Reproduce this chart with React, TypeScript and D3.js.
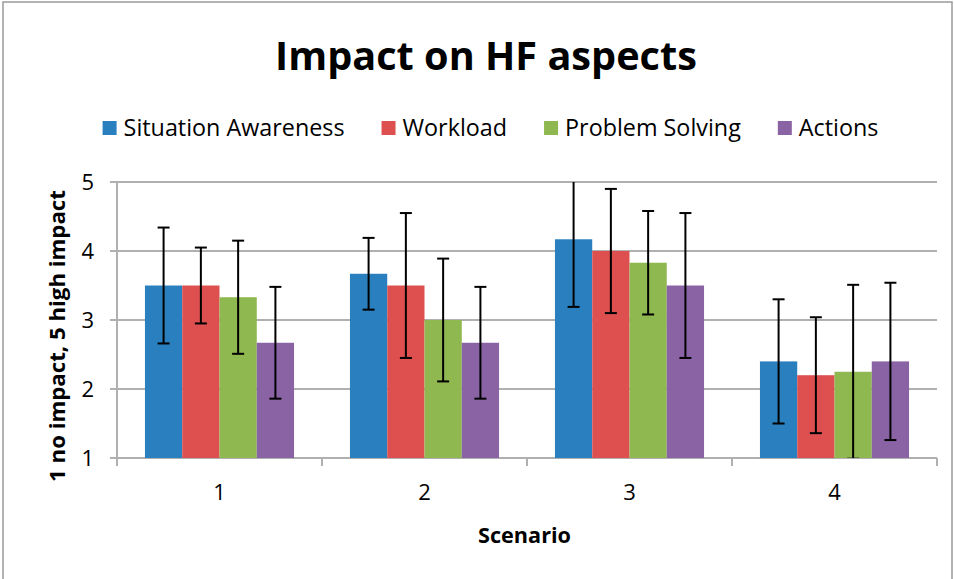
import { useEffect, useRef } from "react"
import * as d3 from "d3"

// data
const scenarios = ["1", "2", "3", "4"]
const seriesNames = ["Situation Awareness", "Workload", "Problem Solving", "Actions"]
const seriesColors = ["#2a80bf", "#de5050", "#90b850", "#8a63a4"]
const situationAwareness = [3.5, 3.67, 4.17, 2.4]
const workload = [3.5, 3.5, 4.0, 2.2]
const problemSolving = [3.33, 3.0, 3.83, 2.25]
const actions = [2.67, 2.67, 3.5, 2.4]
const errSituation = [0.84, 0.52, 0.98, 0.9]
const errWorkload = [0.55, 1.05, 0.9, 0.84]
const errProblem = [0.82, 0.89, 0.75, 1.26]
const errActions = [0.81, 0.81, 1.05, 1.14]
const yTicks = [1, 2, 3, 4, 5]

const W = 954
const H = 579
const FONT = "'Open Sans', Lato, sans-serif"

// scale a text's font size so it fills the width seen in the picture
const fitText = (t: any, baseSize: number, target: number) => {
  t.attr("font-size", baseSize)
  const len = (t.node() as SVGTextElement).getComputedTextLength()
  const size = baseSize * target / len
  t.attr("font-size", size)
  return size
}

export default function App() {
  const svgRef = useRef<SVGSVGElement | null>(null)

  useEffect(() => {
    const svg = d3.select(svgRef.current)
    svg.selectAll("*").remove()

    const values = [situationAwareness, workload, problemSolving, actions]
    const errors = [errSituation, errWorkload, errProblem, errActions]

    const margin = { top: 182, right: 17, bottom: 121, left: 117 }
    const innerW = W - margin.left - margin.right
    const innerH = H - margin.top - margin.bottom

    // outer border
    svg.append("rect")
      .attr("x", 3).attr("y", 2)
      .attr("width", W - 5).attr("height", H + 10)
      .attr("fill", "white")
      .attr("stroke", "#9a9a9a").attr("stroke-width", 1.5)

    const x0 = d3.scaleBand().domain(scenarios).range([0, innerW]).paddingInner(0).paddingOuter(0)
    // gap width 150% -> bars take 4/(4+1.5) of the band
    const groupW = x0.bandwidth() * 4 / 5.5
    const x1 = d3.scaleBand().domain(seriesNames).range([0, groupW]).padding(0)
    const y = d3.scaleLinear().domain([1, 5]).range([innerH, 0])

    const g = svg.append("g").attr("transform", `translate(${margin.left},${margin.top})`)

    // grid lines
    g.selectAll(".grid")
      .data(yTicks)
      .join("line")
      .attr("x1", -7).attr("x2", innerW)
      .attr("y1", d => y(d)).attr("y2", d => y(d))
      .attr("stroke", "#b0b0b0").attr("stroke-width", 2)

    // y axis line
    g.append("line")
      .attr("x1", 0).attr("x2", 0).attr("y1", 0).attr("y2", innerH)
      .attr("stroke", "#b0b0b0").attr("stroke-width", 2)

    // x tick marks at category boundaries
    const bounds = scenarios.map(s => x0(s) as number).concat([innerW])
    g.selectAll(".xtick")
      .data(bounds)
      .join("line")
      .attr("x1", d => d).attr("x2", d => d)
      .attr("y1", innerH).attr("y2", innerH + 8)
      .attr("stroke", "#b0b0b0").attr("stroke-width", 2)

    // y tick labels
    g.selectAll(".ylab")
      .data(yTicks)
      .join("text")
      .attr("x", -23).attr("y", d => y(d))
      .attr("dy", "0.36em")
      .attr("text-anchor", "end")
      .attr("font-family", FONT).attr("font-size", 22)
      .attr("fill", "#000")
      .text(d => d)

    // x tick labels
    g.selectAll(".xlab")
      .data(scenarios)
      .join("text")
      .attr("x", d => (x0(d) as number) + x0.bandwidth() / 2)
      .attr("y", innerH + 42)
      .attr("text-anchor", "middle")
      .attr("font-family", FONT).attr("font-size", 22)
      .text(d => d)

    // bars
    const clip = svg.append("clipPath").attr("id", "plotclip")
    clip.append("rect").attr("x", 0).attr("y", 0).attr("width", innerW).attr("height", innerH)

    seriesNames.forEach((name, si) => {
      const groupOffset = (x0.bandwidth() - groupW) / 2
      const bx = (d: string) => (x0(d) as number) + groupOffset + (x1(name) as number)
      g.append("g")
        .selectAll("rect")
        .data(scenarios)
        .join("rect")
        .attr("x", d => bx(d))
        .attr("y", (_, i) => y(values[si][i]))
        .attr("width", x1.bandwidth())
        .attr("height", (_, i) => innerH - y(values[si][i]))
        .attr("fill", seriesColors[si])

      // error bars
      const eg = g.append("g").attr("clip-path", "url(#plotclip)")
      scenarios.forEach((d, i) => {
        const cx = bx(d) + x1.bandwidth() / 2
        const hi = values[si][i] + errors[si][i]
        const lo = values[si][i] - errors[si][i]
        eg.append("line")
          .attr("x1", cx).attr("x2", cx)
          .attr("y1", y(hi)).attr("y2", y(lo))
          .attr("stroke", "#000").attr("stroke-width", 2)
        ;[hi, lo].forEach(v => {
          eg.append("line")
            .attr("x1", cx - 6).attr("x2", cx + 6)
            .attr("y1", y(v)).attr("y2", y(v))
            .attr("stroke", "#000").attr("stroke-width", 2)
        })
      })
    })

    // title
    const title = svg.append("text")
      .attr("x", 486).attr("y", 70)
      .attr("text-anchor", "middle")
      .attr("font-family", FONT).attr("font-weight", "bold")
      .text("Impact on HF aspects")
    fitText(title, 40, 422)

    // y axis title
    const yTitle = svg.append("text")
      .attr("transform", `translate(65,${336}) rotate(-90)`)
      .attr("text-anchor", "middle")
      .attr("font-family", FONT).attr("font-weight", "bold")
      .text("1 no impact, 5 high impact")
    fitText(yTitle, 20, 292)

    // x axis title
    const xTitle = svg.append("text")
      .attr("x", 524.5).attr("y", 543)
      .attr("text-anchor", "middle")
      .attr("font-family", FONT).attr("font-weight", "bold")
      .text("Scenario")
    fitText(xTitle, 20, 93)

    // legend
    const legend = svg.append("g")
    const sw = 14
    const itemGap = 37
    const probe = svg.append("text").attr("font-family", FONT).text(seriesNames[0])
    const legendSize = fitText(probe, 20, 221)
    probe.remove()
    let cursor = 0
    seriesNames.forEach((name, si) => {
      const item = legend.append("g").attr("transform", `translate(${cursor},0)`)
      item.append("rect")
        .attr("x", 0).attr("y", -sw / 2)
        .attr("width", sw).attr("height", sw)
        .attr("fill", seriesColors[si])
      const t = item.append("text")
        .attr("x", sw + 7).attr("y", 0).attr("dy", "0.36em")
        .attr("font-family", FONT).attr("font-size", legendSize)
        .text(name)
      const tw = (t.node() as SVGTextElement).getComputedTextLength()
      cursor += sw + 7 + tw + itemGap
    })
    const totalW = cursor - itemGap
    legend.attr("transform", `translate(${490.5 - totalW / 2},128)`)
  }, [])

  return (
    <svg
      ref={svgRef}
      width={W}
      height={H}
      style={{ position: "absolute", left: 0, top: 0, background: "white" }}
    />
  )
}
